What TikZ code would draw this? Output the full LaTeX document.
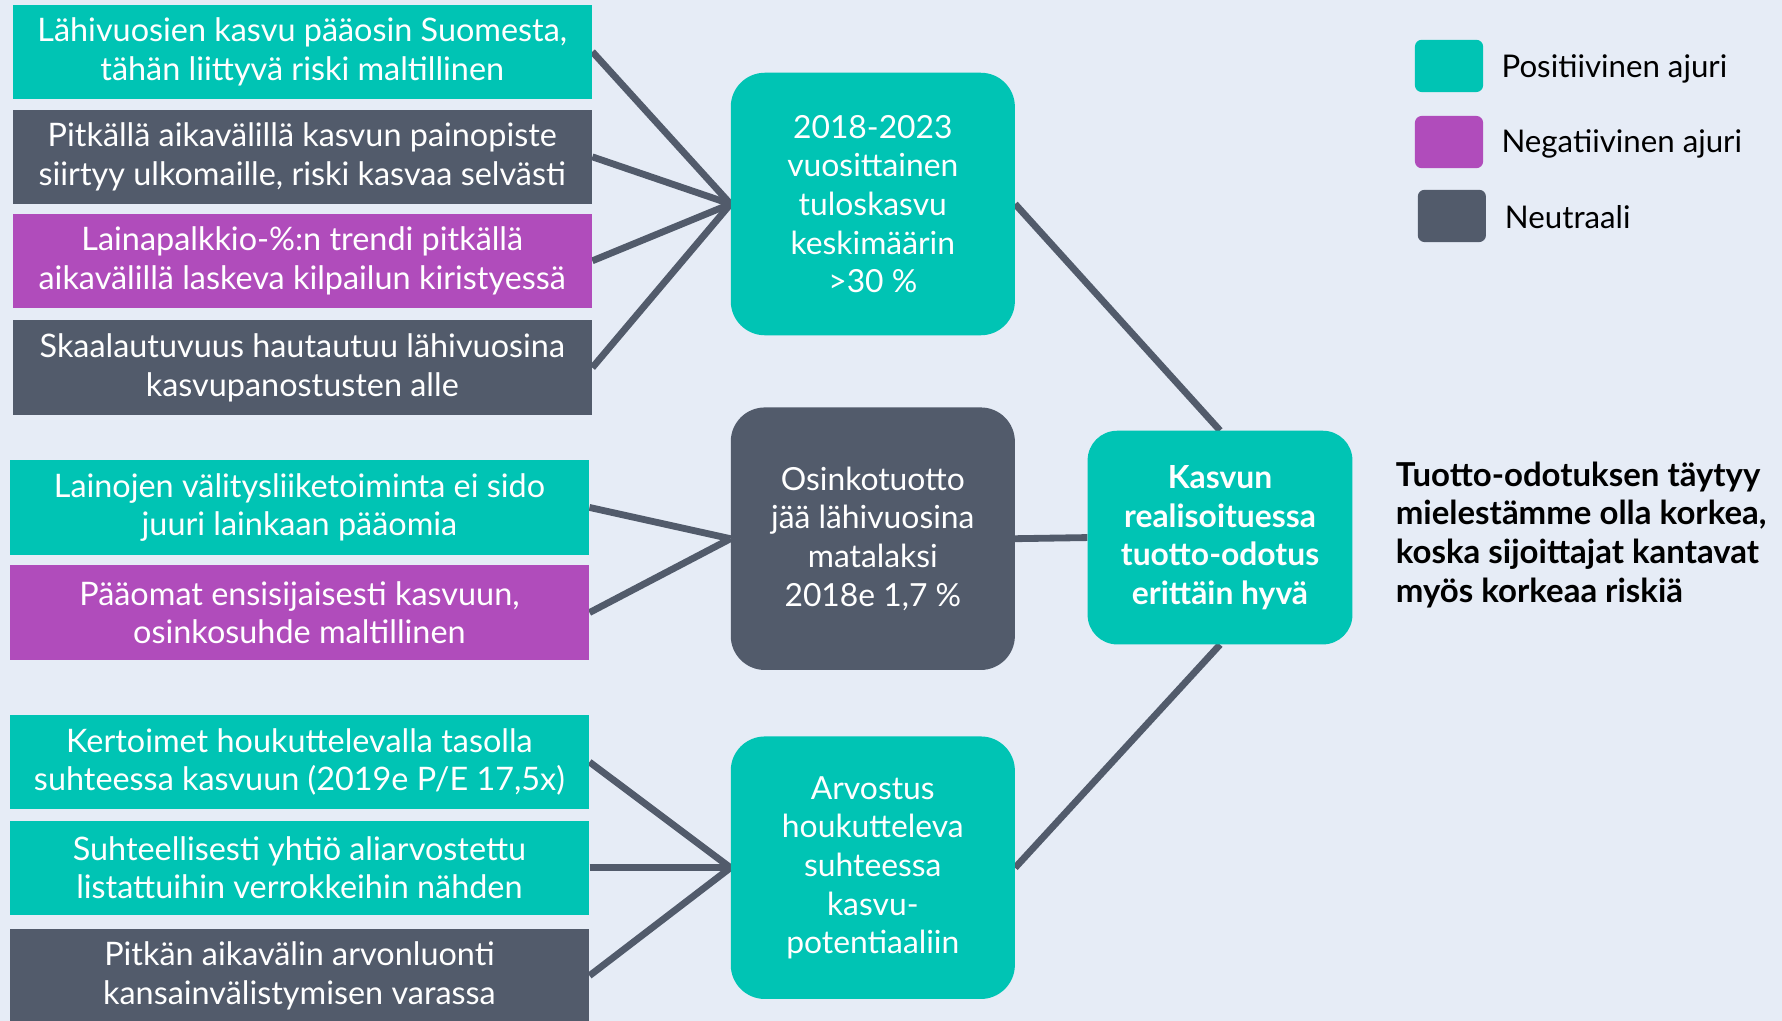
\documentclass[tikz,border=0pt]{standalone}
\usepackage{fontspec}
\setmainfont{Lato}
\usetikzlibrary{backgrounds}
\definecolor{teal1}{HTML}{00C4B4}
\definecolor{purp1}{HTML}{B04CBB}
\definecolor{dark1}{HTML}{525B6B}
\definecolor{bg1}{HTML}{E6ECF6}
\definecolor{line1}{HTML}{525B6B}
\tikzset{
  x=1pt,y=1pt,
  boxtxt/.style={font=\fontsize{28}{34}\selectfont, text=white, align=center, inner sep=0pt},
  drv/.style={boxtxt, font=\fontsize{28.5}{34}\selectfont, minimum width=510pt, minimum height=83pt},
  posbox/.style={fill=teal1},
  negbox/.style={fill=purp1},
  neubox/.style={fill=dark1},
  mid/.style={boxtxt, minimum width=250pt, minimum height=231pt, rounded corners=30pt},
  conn/.style={draw=line1, line width=6pt},
  legsq/.style={minimum width=60pt, minimum height=46pt, rounded corners=6pt, inner sep=0pt},
  legtxt/.style={font=\fontsize{27.5}{30}\selectfont, text=black, anchor=west, inner sep=0pt},
}
\begin{document}
\begin{tikzpicture}
\useasboundingbox (0,0) rectangle (1568,-898);
\begin{scope}
\clip (0,0) rectangle (1568,-898);
% drivers
\node[drv,posbox] (A1) at (266,-45.5) {Lähivuosien kasvu pääosin Suomesta,\\tähän liittyvä riski maltillinen};
\node[drv,neubox] (A2) at (266,-138) {Pitkällä aikavälillä kasvun painopiste\\siirtyy ulkomaille, riski kasvaa selvästi};
\node[drv,negbox] (A3) at (266,-229.5) {Lainapalkkio-\%:n trendi pitkällä\\aikavälillä laskeva kilpailun kiristyessä};
\node[drv,neubox] (A4) at (266,-323.5) {Skaalautuvuus hautautuu lähivuosina\\kasvupanostusten alle};
\node[drv,posbox] (B1) at (263.5,-446.5) {Lainojen välitysliiketoiminta ei sido\\juuri lainkaan pääomia};
\node[drv,negbox] (B2) at (263.5,-539) {Pääomat ensisijaisesti kasvuun,\\osinkosuhde maltillinen};
\node[drv,posbox] (C1) at (263.5,-670.5) {Kertoimet houkuttelevalla tasolla\\suhteessa kasvuun (2019e P/E 17,5x)};
\node[drv,posbox] (C2) at (263.5,-763.5) {Suhteellisesti yhtiö aliarvostettu\\listattuihin verrokkeihin nähden};
\node[drv,neubox] (C3) at (263.5,-858.5) {Pitkän aikavälin arvonluonti\\kansainvälistymisen varassa};
% middle
\node[mid,posbox] (M1) at (768,-179.5) {2018-2023\\vuosittainen\\tuloskasvu\\keskimäärin\\>30 \%};
\node[mid,neubox] (M2) at (768,-474) {Osinkotuotto\\jää lähivuosina\\matalaksi\\2018e 1,7 \%};
\node[mid,posbox] (M3) at (768,-763.5) {Arvostus\\houkutteleva\\suhteessa\\kasvu-\\potentiaaliin};
% result
\node[boxtxt,posbox,font=\bfseries\fontsize{28}{34}\selectfont,minimum width=233pt,minimum height=188pt,rounded corners=26pt] (R) at (1073.5,-473) {Kasvun\\realisoituessa\\tuotto-odotus\\erittäin hyvä};
% connectors
\begin{scope}[on background layer]
\fill[bg1] (0,0) rectangle (1568,-898);
\draw[conn] (A1.east) -- (M1.west);
\draw[conn] (A2.east) -- (M1.west);
\draw[conn] (A3.east) -- (M1.west);
\draw[conn] (A4.east) -- (M1.west);
\draw[conn] (B1.east) -- (M2.west);
\draw[conn] (B2.east) -- (M2.west);
\draw[conn] (C1.east) -- (M3.west);
\draw[conn] (C2.east) -- (M3.west);
\draw[conn] (C3.east) -- (M3.west);
\draw[conn] (M1.east) -- (R.north);
\draw[conn] (M2.east) -- (R.west);
\draw[conn] (M3.east) -- (R.south);
\end{scope}
\end{scope}
% legend
\node[legsq,posbox] (L1) at (1275,-58) {};
\node[legsq,negbox] (L2) at (1275,-125) {};
\node[legsq,neubox] (L3) at (1277.5,-190) {};
\node[legtxt] (T1) at (1321,-61) {Positiivinen ajuri};
\node[legtxt] (T2) at (1321,-127) {Negatiivinen ajuri};
\node[legtxt] (T3) at (1324,-191) {Neutraali};
% note
\node[anchor=north west, align=left, inner sep=0pt, font=\bfseries\fontsize{29}{34}\selectfont, text=black] (N) at (1228,-406) {Tuotto-odotuksen täytyy\\mielestämme olla korkea,\\koska sijoittajat kantavat\\myös korkeaa riskiä};
\end{tikzpicture}
\end{document}
